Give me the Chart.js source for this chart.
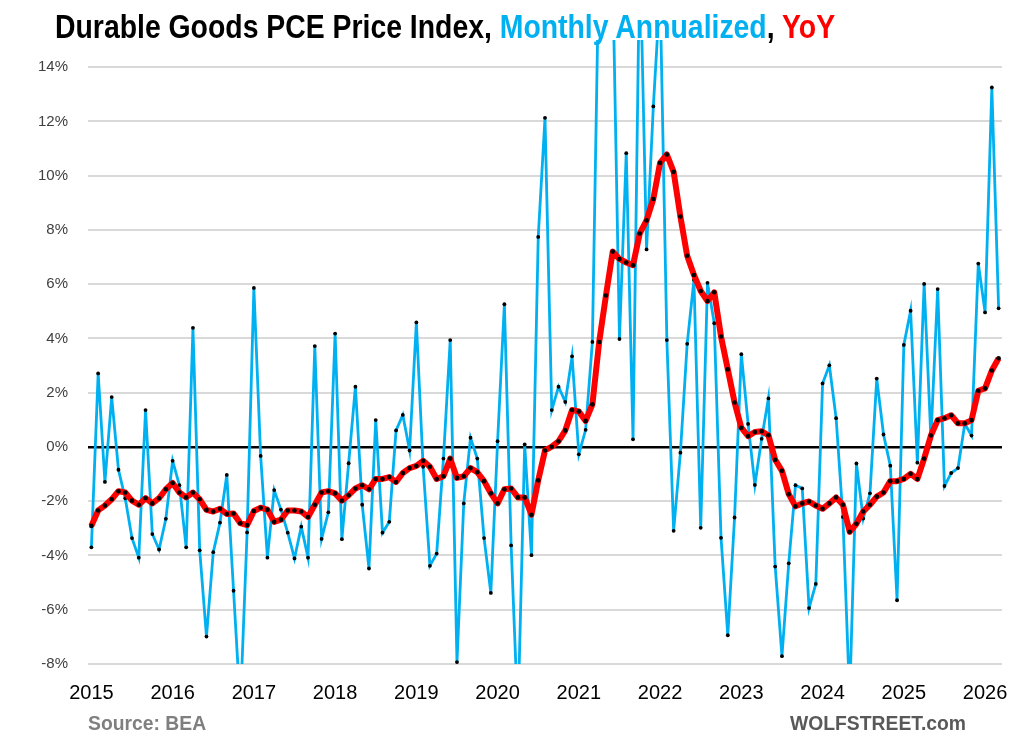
<!DOCTYPE html>
<html>
<head>
<meta charset="utf-8">
<script src="https://cdn.jsdelivr.net/npm/chart.js@4.4.1/dist/chart.umd.min.js"></script>
<style>
  html, body { margin: 0; padding: 0; background: #fff; }
  #wrap { position: relative; width: 1016px; height: 740px; overflow: hidden; }
  #chart { position: absolute; left: 0; top: 0; }
  #title {
    position: absolute; left: 55px; top: 8px; white-space: nowrap;
    font: bold 33px 'Liberation Sans', sans-serif; color: #000;
    transform: scaleX(0.86); transform-origin: 0 0;
  }
  .note {
    position: absolute; top: 711px; white-space: nowrap;
    font: bold 21px 'Liberation Sans', sans-serif;
    transform: scaleX(0.92); transform-origin: 0 0;
  }
</style>
</head>
<body>
<div id="wrap">
  <canvas id="chart" width="1016" height="740"></canvas>
  <div id="title">Durable Goods PCE Price Index, <span style="color:#00B0F0">Monthly Annualized</span>, <span style="color:#FF0000">YoY</span></div>
  <div class="note" style="left:88px;color:#7F7F7F">Source: BEA</div>
  <div class="note" style="left:790px;color:#595959">WOLFSTREET.com</div>
</div>
<script>
// Jahre auf der x-Achse (Januar jeweils)
const yearLabels = ['2015', '2016', '2017', '2018', '2019', '2020', '2021', '2022', '2023', '2024', '2025', '2026'];
const yTicks = [-8, -6, -4, -2, 0, 2, 4, 6, 8, 10, 12, 14];

// Monatlich annualisiert, Jan 2015 .. Mar 2026 (%)
const monthly = [
  -3.70, 2.71, -1.29, 1.84, -0.84, -1.89, -3.36, -4.08, 1.36, -3.21, -3.78, -2.65,
  -0.51, -1.41, -3.70, 4.39, -3.81, -6.99, -3.88, -2.79, -1.03, -5.3, -9.6, -3.15,
  5.86, -0.33, -4.08, -1.59, -2.31, -3.16, -4.11, -2.94, -4.08, 3.72, -3.39, -2.41,
  4.18, -3.40, -0.6, 2.22, -2.13, -4.48, 0.99, -3.16, -2.76, 0.61, 1.18, -0.13,
  4.59, -0.73, -4.38, -3.93, -0.43, 3.94, -7.93, -2.08, 0.34, -0.43, -3.36, -5.38,
  0.21, 5.26, -3.63, -10.0, 0.09, -3.99, 7.74, 12.13, 1.36, 2.22, 1.66, 3.34,
  -0.27, 0.63, 3.87, 18.5, 21.0, 17.5, 3.98, 10.83, 0.28, 18.5, 7.28, 12.55,
  16.8, 3.94, -3.09, -0.21, 3.80, 6.16, -2.98, 6.05, 4.56, -3.35, -6.94, -2.60,
  3.42, 0.85, -1.40, 0.3, 1.79, -4.41, -7.71, -4.29, -1.41, -1.53, -5.94, -5.05,
  2.34, 3.01, 1.06, -2.58, -9.3, -0.61, -2.64, -1.71, 2.52, 0.46, -0.69, -5.65,
  3.76, 5.02, -0.58, 6.01, 0.31, 5.82, -1.44, -0.96, -0.78, 0.85, 0.42, 6.76,
  4.96, 13.25, 5.11
];

// Veraenderung zum Vorjahr (%)
const yoy = [
  -2.91, -2.34, -2.16, -1.93, -1.63, -1.68, -1.98, -2.13, -1.89, -2.08, -1.89, -1.56,
  -1.33, -1.68, -1.86, -1.68, -1.93, -2.32, -2.38, -2.28, -2.47, -2.45, -2.81, -2.88,
  -2.36, -2.24, -2.31, -2.76, -2.68, -2.34, -2.34, -2.38, -2.58, -2.13, -1.68, -1.63,
  -1.71, -1.98, -1.78, -1.53, -1.41, -1.56, -1.18, -1.18, -1.11, -1.29, -0.96, -0.78,
  -0.70, -0.51, -0.73, -1.18, -1.08, -0.43, -1.14, -1.08, -0.78, -0.93, -1.26, -1.71,
  -2.08, -1.56, -1.53, -1.86, -1.86, -2.50, -1.23, -0.13, 0.01, 0.21, 0.61, 1.36,
  1.31, 0.96, 1.57, 3.87, 5.58, 7.20, 6.93, 6.80, 6.70, 7.87, 8.35, 9.14,
  10.47, 10.78, 10.14, 8.49, 7.05, 6.34, 5.75, 5.38, 5.70, 4.07, 2.86, 1.64,
  0.71, 0.40, 0.55, 0.58, 0.43, -0.47, -0.88, -1.74, -2.19, -2.08, -2.01, -2.16,
  -2.28, -2.08, -1.86, -2.13, -3.13, -2.83, -2.38, -2.13, -1.83, -1.68, -1.26, -1.26,
  -1.18, -0.99, -1.18, -0.43, 0.42, 0.99, 1.06, 1.17, 0.87, 0.87, 0.99, 2.07,
  2.16, 2.82, 3.27
];

// Monats-Kategorien aus den Jahren bauen
const labels = [];
yearLabels.forEach(y => {
  for (let m = 1; m <= 12; m++) labels.push(y + '-' + String(m).padStart(2, '0'));
});
labels.length = monthly.length;

const axisFont = "'Liberation Sans', sans-serif";

new Chart(document.getElementById('chart'), {
  type: 'line',
  data: {
    labels: labels,
    datasets: [
      {
        label: 'YoY',
        data: yoy,
        borderColor: '#FF0000',
        borderWidth: 6,
        borderJoinStyle: 'round',
        pointRadius: 2.3,
        pointBackgroundColor: '#000',
        pointBorderWidth: 0,
        order: 0
      },
      {
        label: 'Monthly Annualized',
        data: monthly,
        borderColor: '#00B0F0',
        borderWidth: 2.8,
        pointRadius: 1.9,
        pointBackgroundColor: '#000',
        pointBorderWidth: 0,
        order: 1
      }
    ]
  },
  options: {
    responsive: false,
    animation: false,
    layout: { padding: { top: 40, right: 14, left: 0, bottom: 0 } },
    plugins: { legend: { display: false }, tooltip: { enabled: false } },
    scales: {
      x: {
        offset: true,
        grid: { display: false, drawTicks: false },
        border: { display: false },
        afterFit: s => { s.height = 76; },
        ticks: {
          autoSkip: false, maxRotation: 0, minRotation: 0, padding: 17,
          color: '#000', font: { family: axisFont, size: 20 },
          callback: (v, i) => (i % 12 === 0 ? yearLabels[i / 12] : '')
        }
      },
      y: {
        min: -8,
        max: 15,
        afterBuildTicks: s => { s.ticks = yTicks.map(v => ({ value: v })); },
        afterFit: s => { s.width = 88; },
        grid: {
          drawTicks: false,
          color: c => (c.tick && c.tick.value === 0 ? '#000' : '#D9D9D9'),
          lineWidth: c => (c.tick && c.tick.value === 0 ? 2.5 : 2)
        },
        border: { display: false },
        ticks: {
          padding: 20, color: '#404040', font: { family: axisFont, size: 15 },
          callback: v => v + '%'
        }
      }
    }
  }
});
</script>
</body>
</html>
